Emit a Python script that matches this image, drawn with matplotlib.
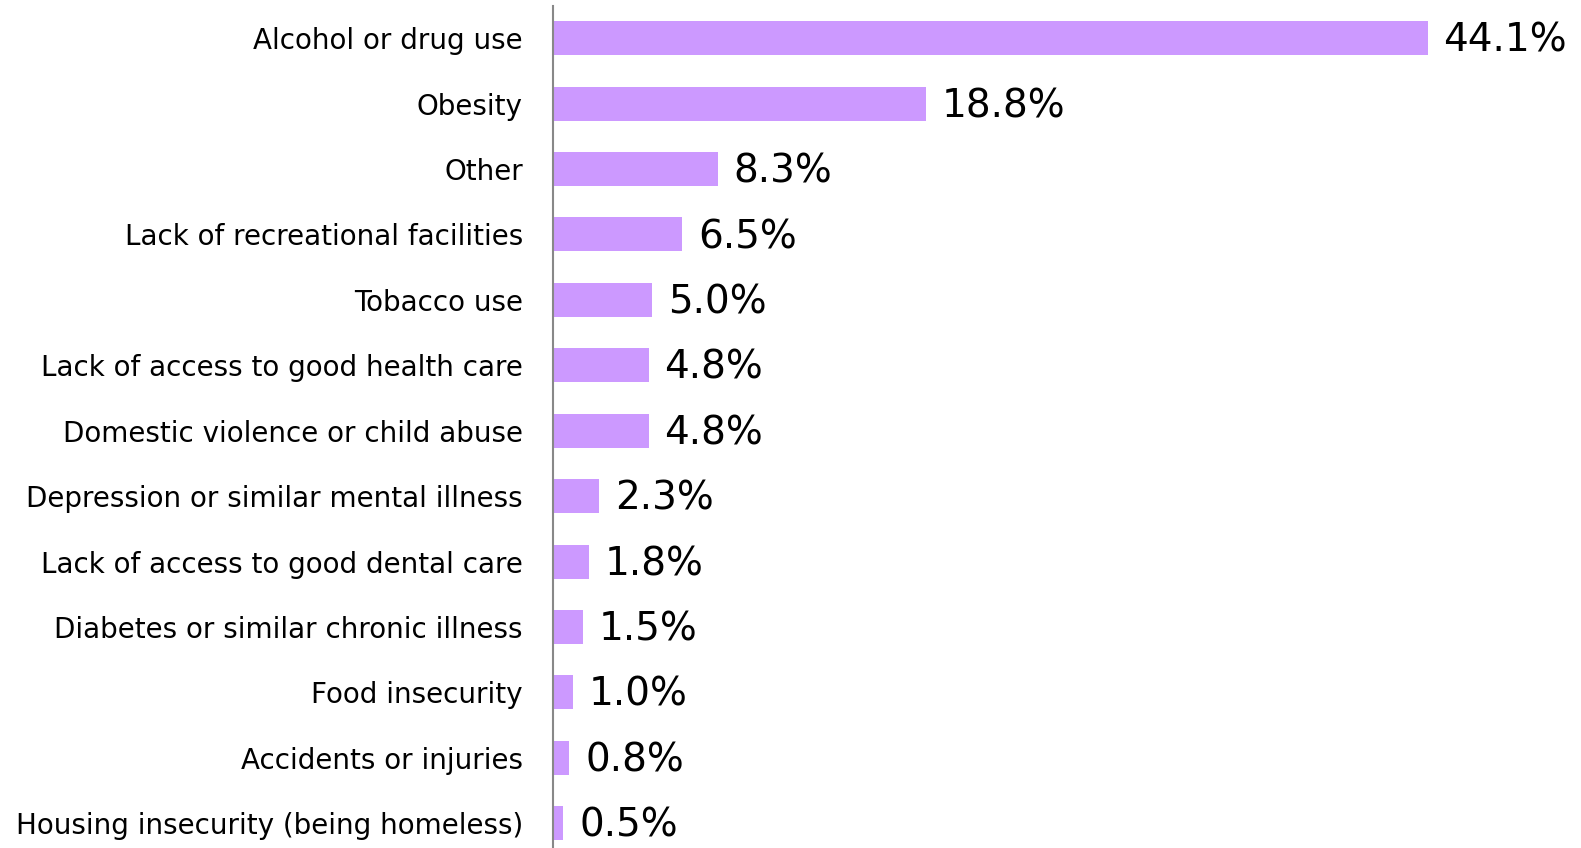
import matplotlib
matplotlib.use("Agg")
import matplotlib.pyplot as plt

categories = ["Alcohol or drug use", "Obesity", "Other", "Lack of recreational facilities",
              "Tobacco use", "Lack of access to good health care", "Domestic violence or child abuse",
              "Depression or similar mental illness", "Lack of access to good dental care",
              "Diabetes or similar chronic illness", "Food insecurity", "Accidents or injuries",
              "Housing insecurity (being homeless)"]
values = [44.1, 18.8, 8.3, 6.5, 5.0, 4.8, 4.8, 2.3, 1.8, 1.5, 1.0, 0.8, 0.5]

fig = plt.figure(figsize=(15.81, 8.48), dpi=100)
ax = fig.add_axes([0.35, 0.0, 0.627, 0.993])

y = list(range(len(categories)))
ax.barh(y, values, height=0.52, color="#cc99ff")
for yi, v in zip(y, values):
    ax.text(v + 0.8, yi + 0.04, "%.1f%%" % v, va="center", ha="left", fontsize=28, color="black")

ax.set_xlim(0, 50)
ax.set_ylim(12.38, -0.494)
ax.set_yticks(y)
ax.set_yticklabels(categories, fontsize=20)
ax.tick_params(axis="y", length=0, pad=22)
ax.set_xticks([])
for s in ["top", "right", "bottom"]:
    ax.spines[s].set_visible(False)
ax.spines["left"].set_color("#888888")
ax.spines["left"].set_linewidth(1.5)

fig.savefig("out.png", dpi=100)
